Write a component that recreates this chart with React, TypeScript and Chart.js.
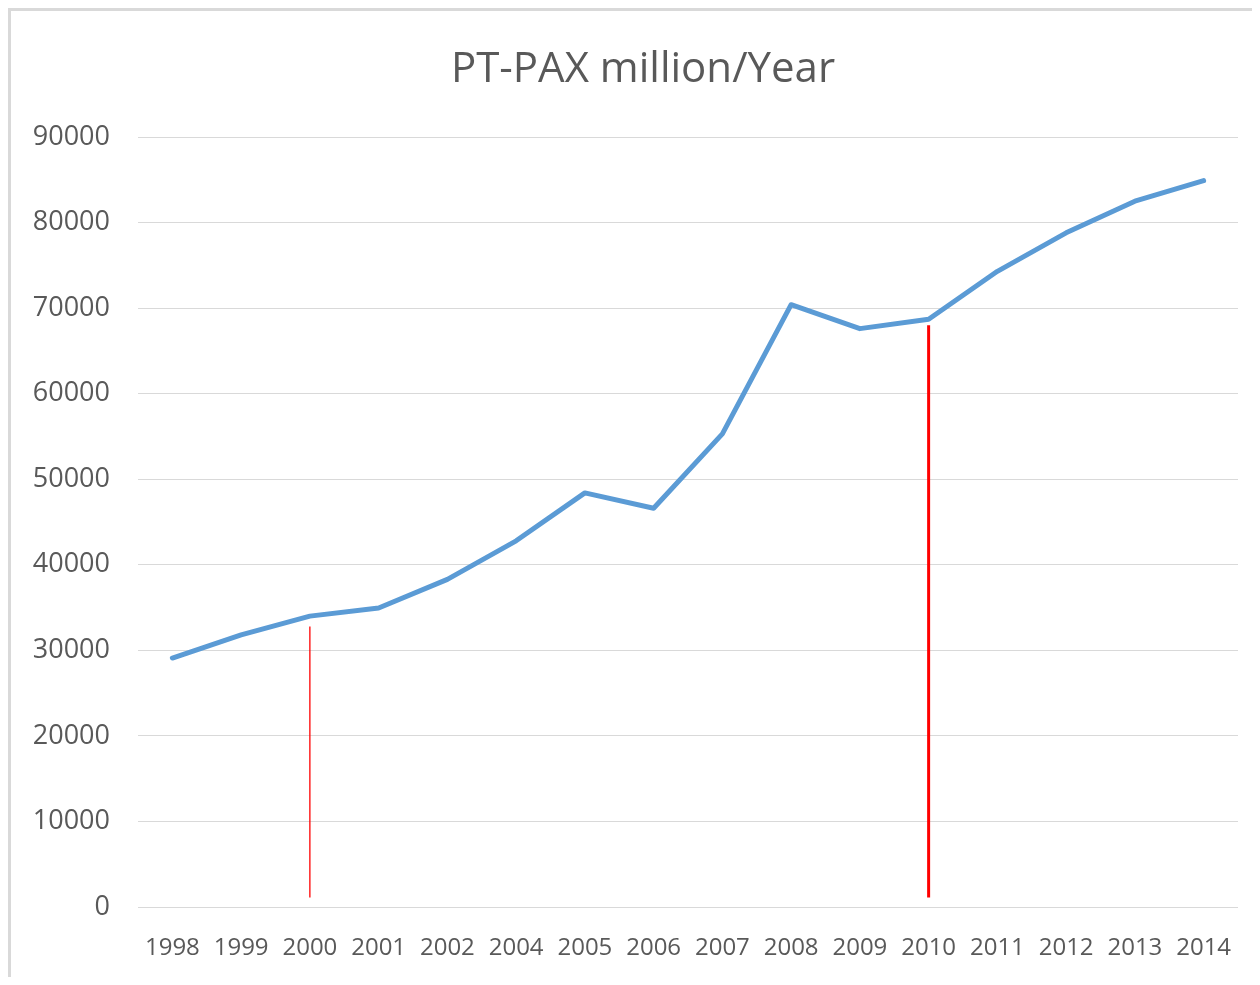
import React, { useEffect, useRef } from "react";
import { Chart, registerables } from "chart.js";

Chart.register(...registerables);

const TITLE = "PT-PAX million/Year";
const years = ["1998", "1999", "2000", "2001", "2002", "2004", "2005", "2006", "2007", "2008", "2009", "2010", "2011", "2012", "2013", "2014"];
const paxValues = [29100, 31800, 34000, 34950, 38300, 42800, 48400, 46600, 55300, 70400, 67600, 68700, 74300, 78800, 82500, 84900];
const yMin = 0;
const yMax = 90000;
const yStep = 10000;
const markerYears = ["2000", "2010"];
const markerTops = [32800, 68000];
const markerBottoms = [1100, 1100];

const centerTitlePlugin = {
  id: "centerTitle",
  afterLayout(chart: any) {
    const t = chart.titleBlock;
    if (t) {
      t.left = 0;
      t.right = chart.width;
      t.width = chart.width;
    }
  },
};

export default function App() {
  const ref = useRef<HTMLCanvasElement | null>(null);

  useEffect(() => {
    if (!ref.current) return;
    const textColor = "#595959";
    const chart = new Chart(ref.current, {
      type: "line",
      data: {
        labels: years,
        datasets: [
          {
            label: TITLE,
            data: paxValues,
            borderColor: "#5B9BD5",
            backgroundColor: "#5B9BD5",
            borderWidth: 5,
            pointRadius: 0,
            borderCapStyle: "round",
            borderJoinStyle: "round",
            tension: 0,
          },
          {
            label: "marker " + markerYears[0],
            data: [
              { x: markerYears[0], y: markerTops[0] },
              { x: markerYears[0], y: markerBottoms[0] },
            ],
            borderColor: "#FF0000",
            borderWidth: 1.3,
            pointRadius: 0,
          },
          {
            label: "marker " + markerYears[1],
            data: [
              { x: markerYears[1], y: markerTops[1] },
              { x: markerYears[1], y: markerBottoms[1] },
            ],
            borderColor: "#FF0000",
            borderWidth: 3,
            pointRadius: 0,
          },
        ] as any,
      },
      plugins: [centerTitlePlugin],
      options: {
        animation: false,
        responsive: false,
        maintainAspectRatio: false,
        layout: { padding: { left: 0, right: 40, top: 0, bottom: 0 } },
        plugins: {
          legend: { display: false },
          tooltip: { enabled: false },
          title: {
            display: true,
            text: TITLE,
            color: textColor,
            font: { family: "'Open Sans', sans-serif", size: 42, weight: "normal" as any, lineHeight: 1.2 },
            padding: { top: 37, bottom: 41.6 },
          },
        },
        scales: {
          x: {
            type: "category",
            offset: true,
            grid: { display: false, drawTicks: false },
            border: { display: false },
            ticks: {
              color: textColor,
              font: { family: "'Open Sans', sans-serif", size: 24 },
              padding: 27,
              autoSkip: false,
              maxRotation: 0,
              minRotation: 0,
            },
            afterFit: (scale: any) => {
              scale.height = 70;
            },
          },
          y: {
            min: yMin,
            max: yMax,
            grid: { color: "#D9D9D9", lineWidth: 1, drawTicks: false },
            border: { display: false },
            ticks: {
              stepSize: yStep,
              color: textColor,
              font: { family: "'Open Sans', sans-serif", size: 27 },
              padding: 28,
              callback: (v: any) => String(v),
            },
            afterFit: (scale: any) => {
              scale.width = 130;
            },
          },
        },
      },
    });
    return () => chart.destroy();
  }, []);

  return (
    <div style={{ position: "relative", width: 1244, height: 969, background: "#fff", overflow: "hidden" }}>
      <canvas ref={ref} width={1270} height={969} style={{ display: "block", width: 1270, height: 969 }} />
      <div
        style={{
          position: "absolute",
          left: 0,
          top: 0,
          width: "100%",
          height: "100%",
          borderTop: "3px solid #D9D9D9",
          borderLeft: "3px solid #D9D9D9",
          boxSizing: "border-box",
          pointerEvents: "none",
        }}
      />
    </div>
  );
}
